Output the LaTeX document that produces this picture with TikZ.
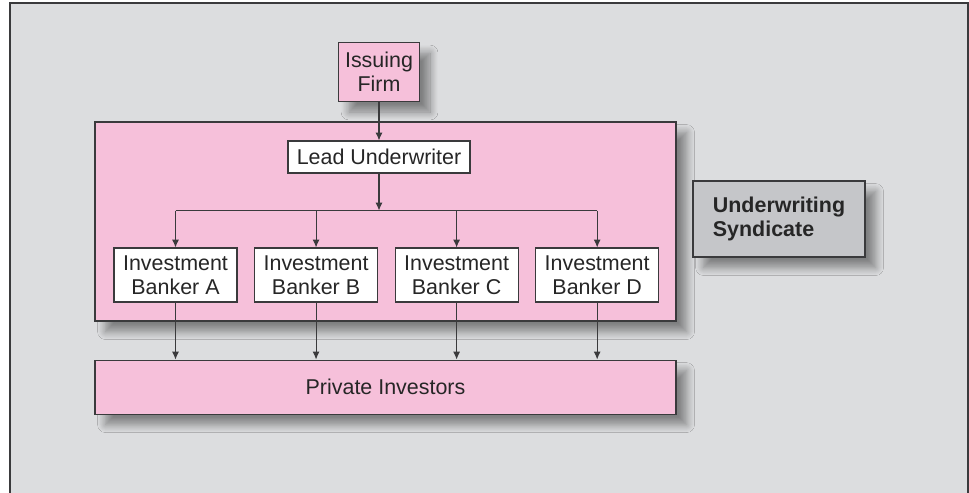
\documentclass[tikz,border=0pt]{standalone}
\usepackage{fontspec}
\setmainfont{Liberation Sans}
\usetikzlibrary{arrows.meta, calc, positioning, shadows.blur}

\definecolor{panelgray}{HTML}{DCDDDF}
\definecolor{boxpink}{HTML}{F6C0DA}
\definecolor{taggray}{HTML}{C5C6C9}
\definecolor{inkgray}{HTML}{3A3A3C}

\begin{document}
\begin{tikzpicture}[
    every node/.style={font=\fontsize{12.2}{13.6}\selectfont, text=black!85},
    sbox/.style={draw=inkgray, line width=0.6pt, inner sep=0pt, align=center,
        blur shadow={shadow xshift=6pt, shadow yshift=-6pt, shadow blur radius=4.5pt,
            shadow blur steps=10, shadow opacity=42}},
    pbox/.style={sbox, fill=boxpink},
    wbox/.style={draw=inkgray, fill=white, line width=0.6pt, inner sep=0pt, align=center,
        minimum width=2.46cm, minimum height=1.08cm},
    link/.style={draw=inkgray, line width=0.6pt, -{Latex[length=4.5pt, width=4pt]}},
]
\useasboundingbox (0,0) rectangle (19.38,-9.84);
\clip (0,0) rectangle (19.38,-9.84);

% === Panel ===
\draw[draw=inkgray, fill=panelgray, line width=0.8pt] (0.2,-0.06) rectangle (19.36,-10.2);

% === Issuer and syndicate ===
\node[pbox, minimum width=1.62cm, minimum height=1.18cm] (firm) at (7.58,-1.44) {Issuing\\Firm};
\node[pbox, minimum width=11.62cm, minimum height=3.98cm] (synd) at (7.71,-4.43) {};
\node[wbox, minimum width=3.64cm, minimum height=0.64cm] (lead) at (7.58,-3.14) {Lead Underwriter};

\node[wbox] (bankA) at (3.51,-5.5) {Investment\\Banker A};
\node[wbox, right=0.33cm of bankA] (bankB) {Investment\\Banker B};
\node[wbox, right=0.33cm of bankB] (bankC) {Investment\\Banker C};
\node[wbox, right=0.33cm of bankC] (bankD) {Investment\\Banker D};

\node[pbox, minimum width=11.62cm, minimum height=1.08cm, below=0.76cm of synd] (invest) {Private Investors};

% Side label
\node[sbox, fill=taggray, minimum width=3.44cm, minimum height=1.52cm, align=left,
    font=\fontsize{12.2}{13.6}\selectfont\bfseries] (tag) at (15.58,-4.38) {Underwriting\\Syndicate};

% === Connectors ===
\coordinate (fork) at ($(lead.south)+(0,-0.74)$);
\draw[link] (firm) -- (lead);
\draw[link] (lead) -- (fork);
\draw[draw=inkgray, line width=0.6pt] (bankA.north |- fork) -- (bankD.north |- fork);
\foreach \b in {bankA, bankB, bankC, bankD} {
    \draw[link] (\b.north |- fork) -- (\b.north);
    \draw[link] (\b.south) -- (\b.south |- invest.north);
}
\end{tikzpicture}
\end{document}
